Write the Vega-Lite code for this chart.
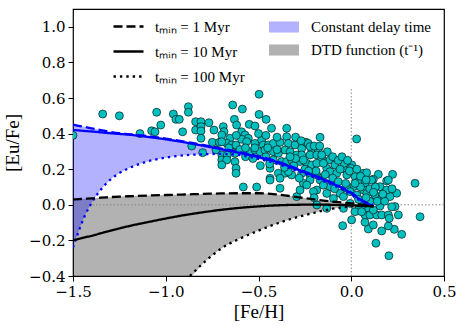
{
  "$schema": "https://vega.github.io/schema/vega-lite/v6.json",
  "width": 371,
  "height": 267,
  "autosize": {"type": "none"},
  "padding": {"left": 73, "top": 9, "right": 20, "bottom": 50},
  "background": "white",
  "config": {
    "view": {"stroke": "black", "strokeWidth": 1.2},
    "axis": {"grid": false, "domain": false, "tickColor": "black", "tickSize": 5, "tickWidth": 1, "labelFont": "DejaVu Serif", "labelFontSize": 15, "labelColor": "black", "labelPadding": 3, "labelFlush": false, "labelOverlap": false, "titleFont": "Liberation Serif", "titleFontSize": 19, "titleFontWeight": "normal", "titleColor": "black"}
  },
  "datasets": {
    "blue": [
      {"x": -1.5, "t1": 0.45, "t10": 0.42, "t100": -0.24},
      {"x": -1.47, "t1": 0.444, "t10": 0.418, "t100": -0.15},
      {"x": -1.44, "t1": 0.438, "t10": 0.415, "t100": -0.07},
      {"x": -1.4, "t1": 0.43, "t10": 0.412, "t100": 0.01},
      {"x": -1.35, "t1": 0.42, "t10": 0.407, "t100": 0.085},
      {"x": -1.3, "t1": 0.41, "t10": 0.402, "t100": 0.14},
      {"x": -1.25, "t1": 0.402, "t10": 0.398, "t100": 0.178},
      {"x": -1.2, "t1": 0.397, "t10": 0.394, "t100": 0.205},
      {"x": -1.1, "t1": 0.386, "t10": 0.382, "t100": 0.243},
      {"x": -1.0, "t1": 0.372, "t10": 0.368, "t100": 0.265},
      {"x": -0.9, "t1": 0.355, "t10": 0.351, "t100": 0.278},
      {"x": -0.8, "t1": 0.336, "t10": 0.332, "t100": 0.284},
      {"x": -0.7, "t1": 0.316, "t10": 0.312, "t100": 0.286},
      {"x": -0.6, "t1": 0.295, "t10": 0.291, "t100": 0.279},
      {"x": -0.5, "t1": 0.272, "t10": 0.268, "t100": 0.258},
      {"x": -0.4, "t1": 0.244, "t10": 0.24, "t100": 0.23},
      {"x": -0.3, "t1": 0.206, "t10": 0.202, "t100": 0.193},
      {"x": -0.2, "t1": 0.166, "t10": 0.162, "t100": 0.154},
      {"x": -0.1, "t1": 0.122, "t10": 0.119, "t100": 0.111},
      {"x": -0.05, "t1": 0.097, "t10": 0.094, "t100": 0.087},
      {"x": 0.0, "t1": 0.068, "t10": 0.065, "t100": 0.058},
      {"x": 0.05, "t1": 0.03, "t10": 0.028, "t100": 0.022},
      {"x": 0.1, "t1": 0.004, "t10": 0.002, "t100": -0.002},
      {"x": 0.12, "t1": -0.004, "t10": -0.006, "t100": -0.008}
    ],
    "black": [
      {"x": -1.5, "t1": 0.03, "t10": -0.2, "t100": null, "lo": -0.4},
      {"x": -1.47, "t1": 0.032, "t10": -0.192, "t100": null, "lo": -0.4},
      {"x": -1.44, "t1": 0.034, "t10": -0.184, "t100": null, "lo": -0.4},
      {"x": -1.4, "t1": 0.036, "t10": -0.174, "t100": null, "lo": -0.4},
      {"x": -1.35, "t1": 0.04, "t10": -0.16, "t100": null, "lo": -0.4},
      {"x": -1.3, "t1": 0.043, "t10": -0.146, "t100": null, "lo": -0.4},
      {"x": -1.25, "t1": 0.046, "t10": -0.133, "t100": null, "lo": -0.4},
      {"x": -1.2, "t1": 0.048, "t10": -0.12, "t100": null, "lo": -0.4},
      {"x": -1.1, "t1": 0.052, "t10": -0.098, "t100": null, "lo": -0.4},
      {"x": -1.0, "t1": 0.055, "t10": -0.077, "t100": null, "lo": -0.4},
      {"x": -0.9, "t1": 0.058, "t10": -0.058, "t100": null, "lo": -0.4},
      {"x": -0.87, "t1": 0.059, "t10": -0.053, "t100": -0.4, "lo": -0.4},
      {"x": -0.8, "t1": 0.061, "t10": -0.042, "t100": -0.33, "lo": -0.33},
      {"x": -0.7, "t1": 0.064, "t10": -0.028, "t100": -0.245, "lo": -0.245},
      {"x": -0.6, "t1": 0.065, "t10": -0.017, "t100": -0.19, "lo": -0.19},
      {"x": -0.5, "t1": 0.065, "t10": -0.009, "t100": -0.145, "lo": -0.145},
      {"x": -0.4, "t1": 0.058, "t10": -0.003, "t100": -0.105, "lo": -0.105},
      {"x": -0.3, "t1": 0.045, "t10": 0.0, "t100": -0.072, "lo": -0.072},
      {"x": -0.2, "t1": 0.03, "t10": 0.001, "t100": -0.045, "lo": -0.045},
      {"x": -0.1, "t1": 0.018, "t10": 0.0, "t100": -0.022, "lo": -0.022},
      {"x": -0.05, "t1": 0.013, "t10": -0.001, "t100": -0.015, "lo": -0.015},
      {"x": 0.0, "t1": 0.008, "t10": -0.003, "t100": -0.01, "lo": -0.01},
      {"x": 0.05, "t1": 0.002, "t10": -0.005, "t100": -0.007, "lo": -0.007},
      {"x": 0.1, "t1": -0.005, "t10": -0.008, "t100": -0.006, "lo": -0.006},
      {"x": 0.12, "t1": -0.01, "t10": -0.01, "t100": -0.01, "lo": -0.01}
    ],
    "pts": [
      {"x": -1.5, "y": 0.39}, {"x": -1.34, "y": 0.51}, {"x": -1.25, "y": 0.5}, {"x": -1.139, "y": 0.4},
      {"x": -1.076, "y": 0.416}, {"x": -1.058, "y": 0.41}, {"x": -1.049, "y": 0.52}, {"x": -1.027, "y": 0.448},
      {"x": -0.959, "y": 0.51}, {"x": -0.945, "y": 0.48}, {"x": -0.927, "y": 0.48}, {"x": -0.909, "y": 0.41},
      {"x": -0.878, "y": 0.551}, {"x": -0.878, "y": 0.52}, {"x": -0.86, "y": 0.33}, {"x": -0.839, "y": 0.467},
      {"x": -0.81, "y": 0.467}, {"x": -0.767, "y": 0.461}, {"x": -0.839, "y": 0.42}, {"x": -0.81, "y": 0.439},
      {"x": -0.81, "y": 0.415}, {"x": -0.81, "y": 0.374}, {"x": -0.801, "y": 0.293}, {"x": -0.749, "y": 0.351},
      {"x": -0.711, "y": 0.351}, {"x": -0.69, "y": 0.439}, {"x": -0.686, "y": 0.411}, {"x": -0.698, "y": 0.392},
      {"x": -0.654, "y": 0.374}, {"x": -0.671, "y": 0.346}, {"x": -0.698, "y": 0.354}, {"x": -0.639, "y": 0.561},
      {"x": -0.63, "y": 0.48}, {"x": -0.618, "y": 0.448}, {"x": -0.645, "y": 0.336}, {"x": -0.621, "y": 0.336},
      {"x": -0.729, "y": 0.308}, {"x": -0.698, "y": 0.28}, {"x": -0.668, "y": 0.28}, {"x": -0.627, "y": 0.289},
      {"x": -0.698, "y": 0.252}, {"x": -0.671, "y": 0.252}, {"x": -0.698, "y": 0.224}, {"x": -0.627, "y": 0.242},
      {"x": -0.621, "y": 0.205}, {"x": -0.621, "y": 0.177}, {"x": -0.582, "y": 0.1}, {"x": -0.51, "y": 0.1},
      {"x": -0.497, "y": 0.621}, {"x": -0.587, "y": 0.538}, {"x": -0.497, "y": 0.508}, {"x": -0.459, "y": 0.48},
      {"x": -0.55, "y": 0.452}, {"x": -0.519, "y": 0.443}, {"x": -0.43, "y": 0.43}, {"x": -0.348, "y": 0.43},
      {"x": -0.591, "y": 0.41}, {"x": -0.573, "y": 0.392}, {"x": -0.555, "y": 0.374}, {"x": -0.168, "y": 0.379},
      {"x": -0.591, "y": 0.368}, {"x": -0.564, "y": 0.355}, {"x": -0.519, "y": 0.345}, {"x": -0.483, "y": 0.364},
      {"x": -0.474, "y": 0.336}, {"x": -0.447, "y": 0.336}, {"x": -0.42, "y": 0.345}, {"x": -0.384, "y": 0.351},
      {"x": -0.348, "y": 0.383}, {"x": -0.339, "y": 0.345}, {"x": -0.303, "y": 0.336}, {"x": -0.267, "y": 0.317},
      {"x": -0.244, "y": 0.351}, {"x": -0.232, "y": 0.345}, {"x": -0.213, "y": 0.308}, {"x": -0.178, "y": 0.308},
      {"x": -0.129, "y": 0.298}, {"x": -0.546, "y": 0.298}, {"x": -0.519, "y": 0.308}, {"x": -0.492, "y": 0.298},
      {"x": -0.465, "y": 0.308}, {"x": -0.42, "y": 0.298}, {"x": -0.393, "y": 0.289}, {"x": -0.357, "y": 0.308},
      {"x": -0.33, "y": 0.298}, {"x": -0.294, "y": 0.28}, {"x": -0.267, "y": 0.28}, {"x": -0.222, "y": 0.28},
      {"x": -0.186, "y": 0.28}, {"x": -0.159, "y": 0.261}, {"x": -0.115, "y": 0.252}, {"x": -0.088, "y": 0.224},
      {"x": -0.42, "y": 0.252}, {"x": -0.375, "y": 0.243}, {"x": -0.348, "y": 0.243}, {"x": -0.321, "y": 0.252},
      {"x": -0.276, "y": 0.243}, {"x": -0.24, "y": 0.233}, {"x": -0.213, "y": 0.224}, {"x": -0.186, "y": 0.233},
      {"x": -0.132, "y": 0.205}, {"x": -0.115, "y": 0.186}, {"x": -0.438, "y": 0.205}, {"x": -0.393, "y": 0.177},
      {"x": -0.357, "y": 0.177}, {"x": -0.321, "y": 0.168}, {"x": -0.267, "y": 0.177}, {"x": -0.222, "y": 0.168},
      {"x": -0.186, "y": 0.168}, {"x": -0.159, "y": 0.149}, {"x": -0.438, "y": 0.149}, {"x": -0.384, "y": 0.149},
      {"x": -0.222, "y": 0.327}, {"x": -0.159, "y": 0.28}, {"x": -0.258, "y": 0.252}, {"x": -0.15, "y": 0.233},
      {"x": -0.042, "y": 0.205}, {"x": 0.003, "y": 0.224}, {"x": -0.078, "y": 0.177}, {"x": -0.024, "y": 0.168},
      {"x": 0.021, "y": 0.158}, {"x": 0.066, "y": 0.177}, {"x": 0.039, "y": 0.13}, {"x": 0.075, "y": 0.121},
      {"x": 0.066, "y": 0.083}, {"x": 0.012, "y": 0.102}, {"x": -0.024, "y": 0.093}, {"x": -0.06, "y": 0.064},
      {"x": -0.114, "y": 0.102}, {"x": -0.168, "y": 0.139}, {"x": -0.222, "y": 0.139}, {"x": -0.258, "y": 0.121},
      {"x": -0.186, "y": 0.083}, {"x": -0.132, "y": 0.064}, {"x": -0.096, "y": 0.036}, {"x": -0.042, "y": 0.046},
      {"x": -0.006, "y": 0.074}, {"x": 0.03, "y": 0.055}, {"x": 0.084, "y": 0.064}, {"x": 0.057, "y": -0.001},
      {"x": 0.093, "y": -0.029}, {"x": 0.039, "y": -0.029}, {"x": -0.006, "y": 0.008}, {"x": -0.042, "y": -0.02},
      {"x": -0.132, "y": -0.02}, {"x": -0.186, "y": -0.001}, {"x": -0.438, "y": 0.139}, {"x": -0.339, "y": 0.186},
      {"x": -0.294, "y": 0.046}, {"x": -0.276, "y": 0.083}, {"x": -0.24, "y": 0.111}, {"x": -0.204, "y": 0.074},
      {"x": -0.384, "y": 0.093}, {"x": 0.029, "y": 0.37}, {"x": -0.039, "y": 0.233}, {"x": 0.083, "y": 0.18},
      {"x": 0.146, "y": 0.171}, {"x": 0.223, "y": 0.171}, {"x": 0.119, "y": 0.143}, {"x": 0.191, "y": 0.134},
      {"x": 0.344, "y": 0.121}, {"x": 0.245, "y": 0.065}, {"x": 0.209, "y": 0.046}, {"x": 0.236, "y": -0.01},
      {"x": 0.254, "y": -0.057}, {"x": 0.371, "y": -0.067}, {"x": 0.11, "y": 0.139}, {"x": 0.2, "y": 0.139},
      {"x": 0.155, "y": 0.102}, {"x": 0.191, "y": 0.083}, {"x": 0.128, "y": 0.055}, {"x": 0.164, "y": 0.037},
      {"x": 0.272, "y": -0.166}, {"x": 0.232, "y": -0.138}, {"x": 0.164, "y": -0.147}, {"x": 0.2, "y": -0.119},
      {"x": 0.133, "y": -0.216}, {"x": 0.203, "y": -0.286}, {"x": 0.092, "y": -0.136}, {"x": 0.074, "y": -0.098},
      {"x": 0.119, "y": -0.113}, {"x": -0.046, "y": -0.117}, {"x": 0.002, "y": -0.085}, {"x": 0.02, "y": -0.039},
      {"x": 0.074, "y": -0.057}, {"x": 0.101, "y": -0.057}, {"x": 0.137, "y": -0.057}, {"x": 0.164, "y": -0.057},
      {"x": 0.2, "y": -0.057}, {"x": 0.218, "y": -0.011}, {"x": 0.155, "y": -0.007}, {"x": 0.119, "y": -0.029},
      {"x": 0.056, "y": -0.039}, {"x": 0.205, "y": -0.076}, {"x": -0.57, "y": 0.27}, {"x": -0.53, "y": 0.26},
      {"x": -0.46, "y": 0.27}, {"x": -0.44, "y": 0.23}, {"x": -0.36, "y": 0.21}, {"x": -0.31, "y": 0.22},
      {"x": -0.25, "y": 0.2}, {"x": -0.28, "y": 0.15}, {"x": -0.14, "y": 0.17}, {"x": -0.1, "y": 0.15},
      {"x": -0.07, "y": 0.13}, {"x": -0.03, "y": 0.12}, {"x": 0.05, "y": 0.1}, {"x": 0.1, "y": 0.09},
      {"x": 0.13, "y": 0.1}, {"x": 0.1, "y": 0.02}, {"x": 0.14, "y": 0.02}, {"x": 0.18, "y": 0.02},
      {"x": 0.12, "y": 0.07}, {"x": 0.17, "y": 0.06}, {"x": 0.22, "y": 0.09}, {"x": 0.0, "y": 0.205},
      {"x": -0.5, "y": 0.4}, {"x": -0.46, "y": 0.39}, {"x": -0.4, "y": 0.38}, {"x": -0.3, "y": 0.38},
      {"x": -0.62, "y": 0.39}, {"x": -0.74, "y": 0.42}, {"x": -0.6, "y": 0.31}, {"x": -0.49, "y": 0.22},
      {"x": -0.27, "y": 0.36}, {"x": -0.2, "y": 0.33}, {"x": -0.17, "y": 0.33}, {"x": -0.1, "y": 0.27},
      {"x": -0.07, "y": 0.25}, {"x": -0.05, "y": 0.27}, {"x": -0.02, "y": 0.25}, {"x": -0.06, "y": 0.2},
      {"x": -0.01, "y": 0.19}, {"x": 0.03, "y": 0.2}, {"x": 0.05, "y": 0.16}, {"x": 0.08, "y": 0.14},
      {"x": 0.02, "y": 0.12}, {"x": -0.09, "y": 0.09}, {"x": -0.15, "y": 0.11}, {"x": -0.19, "y": 0.19},
      {"x": -0.23, "y": 0.19}, {"x": -0.3, "y": 0.26}, {"x": -0.33, "y": 0.27}, {"x": -0.4, "y": 0.31},
      {"x": -0.45, "y": 0.32}, {"x": -0.52, "y": 0.32}, {"x": -0.57, "y": 0.32}, {"x": -0.66, "y": 0.32},
      {"x": -0.2, "y": 0.04}, {"x": 0.04, "y": 0.03}, {"x": 0.08, "y": 0.04}
    ]
  },
  "layer": [
    {
      "data": {"name": "black"},
      "mark": {"type": "area", "opacity": 0.3, "interpolate": "monotone", "clip": true},
      "encoding": {
        "x": {"field": "x", "type": "quantitative", "scale": {"domain": [-1.5, 0.5], "nice": false, "zero": false},
              "axis": {"values": [-1.5, -1, -0.5, 0, 0.5], "tickCount": 20, "format": ".1f", "title": "[Fe/H]", "titlePadding": 3}},
        "y": {"field": "t1", "type": "quantitative", "scale": {"domain": [-0.4, 1.1], "nice": false, "zero": false},
              "axis": {"values": [-0.4, -0.2, 0, 0.2, 0.4, 0.6, 0.8, 1.0], "tickCount": 20, "format": ".1f", "title": "[Eu/Fe]", "titlePadding": 6}},
        "y2": {"field": "lo"},
        "fill": {"datum": "DTD function (t⁻¹)", "type": "nominal",
                 "scale": {"domain": ["Constant delay time", "DTD function (t⁻¹)"], "range": ["#0000ff", "#000000"]},
                 "legend": {"orient": "none", "legendX": 196, "legendY": 3, "direction": "vertical", "title": null, "padding": 0,
                            "symbolType": "M-1,-0.37H1V0.37H-1Z", "symbolSize": 900, "symbolOpacity": 0.3, "symbolStrokeWidth": 0,
                            "labelFont": "Liberation Serif", "labelFontSize": 15, "labelColor": "black", "labelOffset": 12, "rowPadding": -4}}
      }
    },
    {
      "data": {"name": "blue"},
      "mark": {"type": "area", "opacity": 0.3, "interpolate": "monotone", "clip": true},
      "encoding": {
        "x": {"field": "x", "type": "quantitative"},
        "y": {"field": "t1", "type": "quantitative"},
        "y2": {"field": "t100"},
        "fill": {"datum": "Constant delay time", "type": "nominal"}
      }
    },
    {
      "data": {"values": [{}]},
      "mark": {"type": "rule", "color": "#888888", "strokeDash": [1.5, 2], "strokeWidth": 1},
      "encoding": {
        "x": {"datum": 0, "type": "quantitative"},
        "y": {"datum": -0.4, "type": "quantitative"},
        "y2": {"datum": 0.65}
      }
    },
    {
      "data": {"values": [{}]},
      "mark": {"type": "rule", "color": "#888888", "strokeDash": [1.5, 2], "strokeWidth": 1},
      "encoding": {
        "y": {"datum": 0, "type": "quantitative"}
      }
    },
    {
      "data": {"name": "pts"},
      "mark": {"type": "point", "shape": "circle", "filled": true, "size": 64, "fill": "#00bfbf", "fillOpacity": 1, "stroke": "#000000", "strokeWidth": 0.6, "strokeOpacity": 1, "opacity": 1, "clip": true},
      "encoding": {
        "x": {"field": "x", "type": "quantitative"},
        "y": {"field": "y", "type": "quantitative"}
      }
    },
    {
      "data": {"name": "blue"},
      "transform": [{"fold": ["t1", "t10", "t100"], "as": ["tmin", "val"]}],
      "mark": {"type": "line", "color": "#0000ff", "strokeWidth": 2.3, "interpolate": "monotone", "clip": true},
      "encoding": {
        "x": {"field": "x", "type": "quantitative"},
        "y": {"field": "val", "type": "quantitative"},
        "strokeDash": {"field": "tmin", "type": "nominal",
                       "scale": {"domain": ["t1", "t10", "t100"], "range": [[9, 4], [1, 0], [2.4, 4]]},
                       "legend": {"orient": "none", "legendX": 39, "legendY": 1, "direction": "vertical", "title": null, "padding": 0,
                                  "symbolType": "stroke", "symbolSize": 900, "symbolStrokeWidth": 2.3, "symbolStrokeColor": "black",
                                  "labelFont": "Liberation Serif", "labelFontSize": 15, "labelColor": "black", "labelOffset": 10, "rowPadding": -6.5,
                                  "labelExpr": "datum.label == 't1' ? 'tₘᵢₙ = 1 Myr' : datum.label == 't10' ? 'tₘᵢₙ = 10 Myr' : 'tₘᵢₙ = 100 Myr'"}}
      }
    },
    {
      "data": {"name": "black"},
      "transform": [{"fold": ["t1", "t10", "t100"], "as": ["tmin", "val"]}],
      "mark": {"type": "line", "color": "#000000", "strokeWidth": 2.3, "interpolate": "monotone", "clip": true},
      "encoding": {
        "x": {"field": "x", "type": "quantitative"},
        "y": {"field": "val", "type": "quantitative"},
        "strokeDash": {"field": "tmin", "type": "nominal"}
      }
    }
  ]
}
